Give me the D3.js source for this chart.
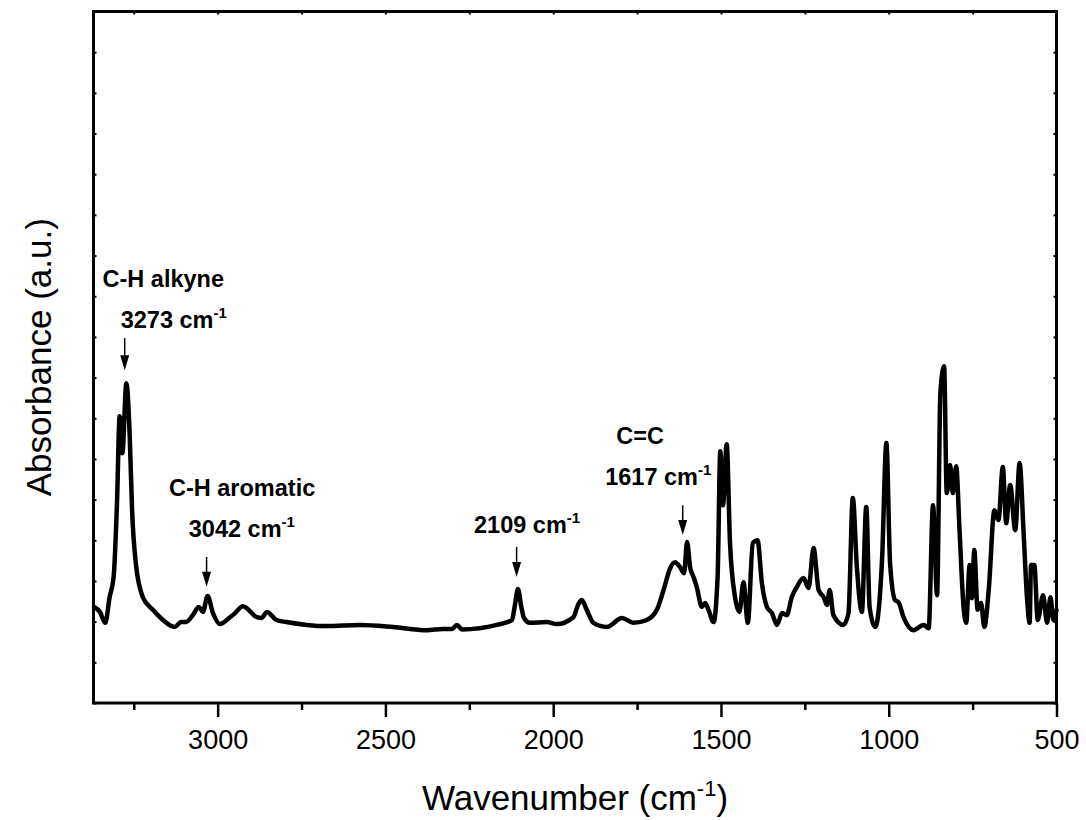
<!DOCTYPE html>
<html>
<head>
<meta charset="utf-8">
<script src="https://cdn.jsdelivr.net/npm/d3@7"></script>
<style>
  body { margin: 0; background: #fff; }
  text { font-family: Arial, "Liberation Sans", sans-serif; }
</style>
</head>
<body>
<svg id="chart" width="1086" height="820"></svg>
<script>
// spectrum (cm-1 / a.u.)
const wavenumber = [
  3368, 3351, 3335, 3322, 3310, 3300, 3292, 3284, 3272, 3262, 3255, 3244, 3223, 3193, 3163,
  3128, 3109, 3094, 3074, 3056, 3044, 3030, 3014, 2993, 2963, 2948, 2925, 2883, 2869, 2853,
  2825, 2795, 2735, 2675, 2576, 2477, 2377, 2328, 2301, 2287, 2272, 2168, 2123, 2114, 2105,
  2096, 2087, 2069, 2019, 1989, 1940, 1926, 1915, 1900, 1880, 1840, 1795, 1761, 1721, 1691,
  1671, 1651, 1637, 1622, 1610, 1601, 1592, 1582, 1572, 1557, 1547, 1537, 1522, 1510, 1502,
  1494, 1483, 1473, 1458, 1445, 1433, 1420, 1405, 1391, 1378, 1363, 1348, 1333, 1318, 1304,
  1289, 1274, 1254, 1239, 1224, 1209, 1194, 1184, 1176, 1165, 1135, 1120, 1107, 1095, 1080,
  1067, 1057, 1040, 1020, 1007, 996, 981, 971, 956, 926, 896, 881, 868, 856, 846,
  835, 827, 817, 809, 799, 789, 777, 769, 759, 752, 745, 735, 725, 715, 702,
  685, 673, 660, 650, 638, 623, 610, 598, 588, 580, 576, 566, 556, 540, 528,
  518, 509, 500
];
const absorbance = [
  0.236, 0.224, 0.197, 0.260, 0.310, 0.491, 0.705, 0.614, 0.786, 0.654, 0.474, 0.344, 0.260, 0.229, 0.204,
  0.187, 0.199, 0.199, 0.216, 0.236, 0.224, 0.263, 0.221, 0.194, 0.211, 0.221, 0.238, 0.211, 0.209, 0.224,
  0.204, 0.199, 0.192, 0.189, 0.192, 0.187, 0.179, 0.182, 0.182, 0.192, 0.181, 0.192, 0.204, 0.241, 0.280,
  0.241, 0.209, 0.197, 0.199, 0.194, 0.211, 0.241, 0.253, 0.229, 0.197, 0.187, 0.209, 0.197, 0.204, 0.229,
  0.278, 0.332, 0.346, 0.334, 0.319, 0.396, 0.334, 0.310, 0.285, 0.236, 0.246, 0.229, 0.199, 0.310, 0.619,
  0.486, 0.636, 0.393, 0.260, 0.224, 0.297, 0.197, 0.393, 0.400, 0.295, 0.236, 0.221, 0.192, 0.221, 0.216,
  0.260, 0.285, 0.307, 0.283, 0.381, 0.278, 0.260, 0.241, 0.278, 0.216, 0.192, 0.221, 0.504, 0.334, 0.224,
  0.482, 0.236, 0.187, 0.351, 0.639, 0.344, 0.253, 0.248, 0.211, 0.179, 0.192, 0.184, 0.486, 0.265, 0.764,
  0.828, 0.516, 0.585, 0.516, 0.582, 0.425, 0.236, 0.197, 0.339, 0.258, 0.376, 0.229, 0.246, 0.187, 0.278,
  0.474, 0.450, 0.580, 0.442, 0.536, 0.425, 0.590, 0.418, 0.260, 0.197, 0.339, 0.339, 0.204, 0.265, 0.197,
  0.260, 0.204, 0.229
];

const xTicksMajor = [3000, 2500, 2000, 1500, 1000, 500];
const xTicksMinor = [3250, 2750, 2250, 1750, 1250, 750];

// peak labels: arrow (wavenumber, top, tip), number label and group name anchors
const peaks = [
  {name: 'C-H alkyne',   label: '3273', arrowWn: 3277, arrowTop: 0.897, arrowTip: 0.818, labelWn: 3289, labelAbs: 0.921, nameWn: 3343, nameAbs: 1.023},
  {name: 'C-H aromatic', label: '3042', arrowWn: 3033, arrowTop: 0.359, arrowTip: 0.286, labelWn: 3086, labelAbs: 0.407, nameWn: 3145, nameAbs: 0.509},
  {name: '',             label: '2109', arrowWn: 2109, arrowTop: 0.384, arrowTip: 0.310, labelWn: 2236, labelAbs: 0.417, nameWn: 0, nameAbs: 0},
  {name: 'C=C',          label: '1617', arrowWn: 1614, arrowTop: 0.486, arrowTip: 0.413, labelWn: 1845, labelAbs: 0.536, nameWn: 1812, nameAbs: 0.636}
];

const svg = d3.select('#chart');
const m = {left: 93.5, right: 1056.5, top: 11.5, bottom: 703};

const x = d3.scaleLinear().domain([3370, 500]).range([m.left, m.right]);
const y = d3.scaleLinear().domain([0, 1.7]).range([m.bottom, m.top]);
const yTicks = d3.range(0, 1.7001, 0.1);

// bottom axis, outward ticks with labels
const xAxis = svg.append('g')
   .attr('transform', `translate(0,${m.bottom})`)
   .call(d3.axisBottom(x).tickValues(xTicksMajor).tickSize(14).tickPadding(13).tickFormat(d3.format('d')));
xAxis.select('.domain').remove();
xAxis.selectAll('line').attr('stroke-width', 2.5);
xAxis.selectAll('text').attr('font-size', '27px').attr('fill', '#000');

const xMinor = svg.append('g')
   .attr('transform', `translate(0,${m.bottom})`)
   .call(d3.axisBottom(x).tickValues(xTicksMinor).tickSize(7).tickFormat(''));
xMinor.select('.domain').remove();
xMinor.selectAll('line').attr('stroke-width', 2.5);

// top axis, small inward ticks
const xTop = svg.append('g')
   .attr('transform', `translate(0,${m.top})`)
   .call(d3.axisTop(x).tickValues(xTicksMajor.concat(xTicksMinor)).tickSize(-3).tickFormat(''));
xTop.select('.domain').remove();
xTop.selectAll('line').attr('stroke-width', 2);

// left and right axes, small inward ticks, no labels
const yLeft = svg.append('g')
   .attr('transform', `translate(${m.left},0)`)
   .call(d3.axisLeft(y).tickValues(yTicks).tickSize(-3).tickFormat(''));
yLeft.select('.domain').remove();
yLeft.selectAll('line').attr('stroke-width', 2);

const yRight = svg.append('g')
   .attr('transform', `translate(${m.right},0)`)
   .call(d3.axisRight(y).tickValues(yTicks).tickSize(-3).tickFormat(''));
yRight.select('.domain').remove();
yRight.selectAll('line').attr('stroke-width', 2);

// frame
svg.append('rect')
   .attr('x', m.left)
   .attr('y', m.top)
   .attr('width', m.right - m.left)
   .attr('height', m.bottom - m.top)
   .attr('fill', 'none')
   .attr('stroke', '#000')
   .attr('stroke-width', 3);

// spectrum
const pts = wavenumber.map((w, i) => ({w: w, a: absorbance[i]}));
const line = d3.line()
   .x(d => x(d.w))
   .y(d => y(d.a))
   .curve(d3.curveMonotoneX);
svg.append('path')
   .attr('d', line(pts))
   .attr('fill', 'none')
   .attr('stroke', '#000')
   .attr('stroke-width', 4.5)
   .attr('stroke-linejoin', 'round')
   .attr('stroke-linecap', 'round');

// peak annotations
const ann = svg.append('g');
peaks.forEach(p => {
  const ax = x(p.arrowWn);
  const y0 = y(p.arrowTop), y1 = y(p.arrowTip);
  ann.append('line')
     .attr('x1', ax).attr('y1', y0)
     .attr('x2', ax).attr('y2', y1 - 12)
     .attr('stroke', '#000')
     .attr('stroke-width', 1.5);
  ann.append('path')
     .attr('d', `M${ax - 4.5},${y1 - 15} L${ax + 4.5},${y1 - 15} L${ax},${y1} Z`)
     .attr('fill', '#000');

  const t = ann.append('text')
     .attr('x', x(p.labelWn))
     .attr('y', y(p.labelAbs))
     .attr('font-size', '23.5px')
     .attr('font-weight', 'bold');
  t.append('tspan').text(p.label + ' cm');
  t.append('tspan').attr('dy', -10).attr('font-size', '15px').text('-1');

  if(p.name)
  ann.append('text')
     .attr('x', x(p.nameWn))
     .attr('y', y(p.nameAbs))
     .attr('font-size', '23.5px')
     .attr('font-weight', 'bold')
     .text(p.name);
});

// axis titles
const xt = svg.append('text')
   .attr('x', (m.left + m.right) / 2)
   .attr('y', 810)
   .attr('text-anchor', 'middle')
   .attr('font-size', '35px');
xt.append('tspan').text('Wavenumber (cm');
xt.append('tspan').attr('dy', -14).attr('font-size', '22px').text('-1');
xt.append('tspan').attr('dy', 14).text(')');

svg.append('text')
   .attr('transform', `translate(51,${(m.top + m.bottom) / 2}) rotate(-90)`)
   .attr('text-anchor', 'middle')
   .attr('font-size', '35px')
   .text('Absorbance (a.u.)');
</script>
</body>
</html>
